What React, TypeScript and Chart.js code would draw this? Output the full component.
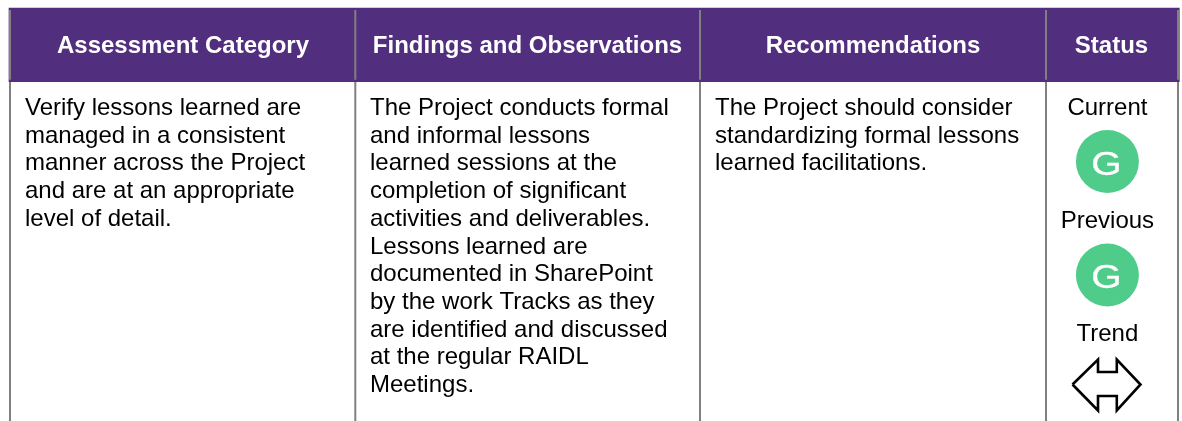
import React, { useEffect, useRef } from "react";
import { Chart, registerables } from "chart.js";

Chart.register(...registerables);

const WIDTH = 1182;
const HEIGHT = 421;
const FONT = '"Liberation Sans", Arial, sans-serif';

const headers = ["Assessment Category", "Findings and Observations", "Recommendations", "Status"];
const headerCentres = [183, 527.5, 873, 1111.5];
const headerBand = [8, 81.7];
const headerSpan = [9, 1179.3];
const columnRules = [10, 355.3, 700, 1046, 1178];

const assessmentLines = [
  "Verify lessons learned are",
  "managed in a consistent",
  "manner across the Project",
  "and are at an appropriate",
  "level of detail.",
];
const findingsLines = [
  "The Project conducts formal",
  "and informal lessons",
  "learned sessions at the",
  "completion of significant",
  "activities and deliverables.",
  "Lessons learned are",
  "documented in SharePoint",
  "by the work Tracks as they",
  "are identified and discussed",
  "at the regular RAIDL",
  "Meetings.",
];
const recommendationLines = [
  "The Project should consider",
  "standardizing formal lessons",
  "learned facilitations.",
];
const bodyColumns = [assessmentLines, findingsLines, recommendationLines];
const bodyLefts = [25, 370, 715];
const firstBaseline = 115;
const lineStep = 27.7;

const statusX = 1107.4;
const statusLabels = ["Current", "Previous", "Trend"];
const statusLabelBaselines = [115, 228, 341];
const ratingLetters = ["G", "G"];
const ratingY = [161.5, 275];
const arrowX = [1072.5, 1098, 1098, 1116.8, 1116.8, 1140.5, 1116.8, 1116.8, 1098, 1098, 1072.5];
const arrowY = [384.5, 359.5, 372, 372, 359.5, 384.5, 410.5, 396, 396, 410.5, 384.5];

const textPlugin = {
  id: "tableText",
  afterDatasetsDraw(chart: any) {
    const { ctx, scales } = chart;
    const X = scales.x;
    const Y = scales.y;
    ctx.save();
    ctx.textBaseline = "alphabetic";

    ctx.font = `bold 24px ${FONT}`;
    ctx.fillStyle = "#ffffff";
    ctx.textAlign = "center";
    headers.forEach((h, i) => ctx.fillText(h, X.getPixelForValue(headerCentres[i]), Y.getPixelForValue(53)));

    ctx.font = `24px ${FONT}`;
    ctx.fillStyle = "#000000";
    ctx.textAlign = "left";
    bodyColumns.forEach((lines, c) =>
      lines.forEach((line, i) =>
        ctx.fillText(line, X.getPixelForValue(bodyLefts[c]), Y.getPixelForValue(firstBaseline + i * lineStep)),
      ),
    );

    ctx.textAlign = "center";
    statusLabels.forEach((s, i) => ctx.fillText(s, X.getPixelForValue(statusX), Y.getPixelForValue(statusLabelBaselines[i])));

    ctx.fillStyle = "#ffffff";
    ctx.strokeStyle = "#ffffff";
    ratingLetters.forEach((g, i) => {
      ctx.save();
      ctx.translate(X.getPixelForValue(statusX - 0.9), Y.getPixelForValue(ratingY[i] + 13));
      ctx.scale(1.18, 1);
      ctx.font = `33px ${FONT}`;
      ctx.lineWidth = 0.3;
      ctx.fillText(g, 0, 0);
      ctx.strokeText(g, 0, 0);
      ctx.restore();
    });
    ctx.restore();
  },
};

export default function App() {
  const ref = useRef<HTMLCanvasElement>(null);
  useEffect(() => {
    if (!ref.current) return;
    const rulePoints: any[] = [];
    columnRules.forEach((x) => {
      rulePoints.push({ x, y: 10 }, { x, y: 79.7 }, { x, y: NaN }, { x, y: 82 }, { x, y: HEIGHT }, { x, y: NaN });
    });
    const chart = new Chart(ref.current, {
      type: "scatter",
      data: {
        datasets: [
          {
            type: "scatter",
            label: "Trend",
            data: arrowX.map((x, i) => ({ x, y: arrowY[i] })),
            showLine: true,
            borderColor: "#000000",
            borderWidth: 2.6,
            borderJoinStyle: "miter",
            pointRadius: 0,
            order: 1,
          },
          {
            type: "scatter",
            label: "Rating",
            data: ratingY.map((y) => ({ x: statusX, y })),
            pointRadius: 31.5,
            pointHoverRadius: 31.5,
            pointBackgroundColor: "#4FCB8A",
            pointBorderWidth: 0,
            order: 2,
          },
          {
            type: "scatter",
            label: "Rules",
            data: rulePoints,
            showLine: true,
            spanGaps: false,
            borderColor: "#808080",
            borderWidth: 2,
            pointRadius: 0,
            order: 3,
          },
          {
            type: "bar",
            label: "Header",
            data: [{ x: (headerSpan[0] + headerSpan[1]) / 2, y: headerBand }],
            backgroundColor: "#522E7F",
            barThickness: headerSpan[1] - headerSpan[0],
            order: 4,
          },
        ] as any,
      },
      options: {
        responsive: false,
        animation: false,
        events: [],
        layout: { padding: 0, autoPadding: false },
        plugins: { legend: { display: false }, tooltip: { enabled: false } },
        scales: {
          x: { type: "linear", display: false, min: 0, max: WIDTH, offset: false },
          y: { type: "linear", display: false, min: 0, max: HEIGHT, reverse: true },
        },
      },
      plugins: [textPlugin],
    });
    return () => chart.destroy();
  }, []);
  return (
    <canvas
      ref={ref}
      width={WIDTH}
      height={HEIGHT}
      style={{ position: "fixed", left: 0, top: 0, width: WIDTH, height: HEIGHT, display: "block", background: "#fff" }}
    />
  );
}
